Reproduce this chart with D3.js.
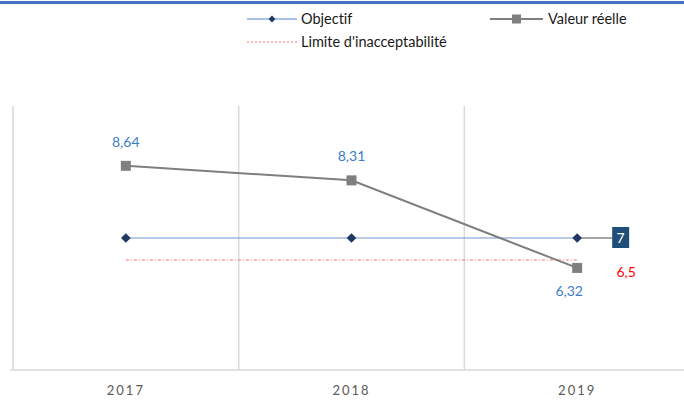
<!DOCTYPE html>
<html>
<head>
<meta charset="utf-8">
<script src="https://cdn.jsdelivr.net/npm/d3@7"></script>
<style>
  body { margin: 0; background: #fff; }
  svg { display: block; font-family: Lato, "Open Sans", sans-serif; font-variant-ligatures: none; }
</style>
</head>
<body>
<div id="chart"></div>
<script>
// chart data
const years = ['2017', '2018', '2019'];
const objectif = [7, 7, 7];
const valeurReelle = [8.64, 8.31, 6.32];
const limite = [6.5, 6.5, 6.5];
const legendLabels = ['Objectif', 'Valeur réelle', "Limite d'inacceptabilité"];

const width = 684, height = 401;
const fr = d3.formatLocale({ decimal: ',', thousands: ' ', grouping: [3], currency: ['', '€'] });
const fmt = v => fr.format('~g')(v);

const svg = d3.select('#chart').append('svg')
  .attr('width', width)
  .attr('height', height);

// top border
svg.append('rect').attr('x', 0).attr('y', 1).attr('width', width).attr('height', 3).attr('fill', '#4472C4');

const x = d3.scaleBand().domain(years).range([13, 690]);
const y = d3.scaleLinear().domain([4, 10]).range([370, 106]);
const cx = d => x(d) + x.bandwidth() / 2;

// vertical gridlines (category boundaries)
svg.append('g').selectAll('line')
  .data(years)
  .enter().append('line')
  .attr('x1', d => x(d)).attr('x2', d => x(d))
  .attr('y1', y(10)).attr('y2', y(4))
  .attr('stroke', '#D9D9D9').attr('stroke-width', 1.5);

// x axis
const xAxis = svg.append('g')
  .attr('transform', `translate(0,${y(4)})`)
  .call(d3.axisBottom(x).tickSize(0).tickPadding(16));
xAxis.select('.domain').remove();
xAxis.append('line')
  .attr('x1', 10).attr('x2', width).attr('y1', 0).attr('y2', 0)
  .attr('stroke', '#D9D9D9').attr('stroke-width', 1.5);
xAxis.selectAll('text')
  .attr('font-family', 'Lato, sans-serif')
  .attr('font-size', 13)
  .attr('letter-spacing', 2)
  .attr('fill', '#595959');

// limite line (dotted red)
svg.append('path')
  .datum(limite)
  .attr('fill', 'none')
  .attr('stroke', '#FF6F73')
  .attr('stroke-width', 1)
  .attr('stroke-dasharray', '3,2,1,2')
  .attr('d', d3.line().x((d, i) => cx(years[i])).y(d => y(d)));

// objectif line
svg.append('path')
  .datum(objectif)
  .attr('fill', 'none')
  .attr('stroke', '#7493CE')
  .attr('stroke-width', 1)
  .attr('d', d3.line().x((d, i) => cx(years[i])).y(d => y(d)));

// leader line to objectif label
const lastI = years.length - 1;
svg.append('line')
  .attr('x1', cx(years[lastI]) + 3).attr('x2', cx(years[lastI]) + 35)
  .attr('y1', y(objectif[lastI])).attr('y2', y(objectif[lastI]))
  .attr('stroke', '#A6A6A6').attr('stroke-width', 2);

// objectif markers
svg.append('g').selectAll('path')
  .data(objectif)
  .enter().append('path')
  .attr('transform', (d, i) => `translate(${cx(years[i])},${y(d)})`)
  .attr('d', d3.symbol().type(d3.symbolDiamond2).size(60))
  .attr('fill', '#203864');

// valeur réelle line
svg.append('path')
  .datum(valeurReelle)
  .attr('fill', 'none')
  .attr('stroke', '#7F7F7F')
  .attr('stroke-width', 2)
  .attr('d', d3.line().x((d, i) => cx(years[i])).y(d => y(d)));

svg.append('g').selectAll('rect')
  .data(valeurReelle)
  .enter().append('rect')
  .attr('x', (d, i) => cx(years[i]) - 5)
  .attr('y', d => y(d) - 5)
  .attr('width', 10).attr('height', 10)
  .attr('fill', '#7F7F7F');

// valeur réelle labels
svg.append('g').selectAll('text')
  .data(valeurReelle)
  .enter().append('text')
  .attr('x', (d, i) => cx(years[i]) - (i === lastI ? 8 : 0))
  .attr('y', (d, i) => i === lastI ? y(d) + 28 : y(d) - 19)
  .attr('text-anchor', 'middle')
  .attr('font-size', 14)
  .attr('fill', '#3C7DC4')
  .text(d => fmt(d));

// objectif label box
const boxX = cx(years[lastI]) + 35;
svg.append('rect')
  .attr('x', boxX).attr('y', y(objectif[lastI]) - 11)
  .attr('width', 17).attr('height', 21)
  .attr('fill', '#1F4E79');
svg.append('text')
  .attr('x', boxX + 8.5).attr('y', y(objectif[lastI]) + 5)
  .attr('text-anchor', 'middle')
  .attr('font-size', 14)
  .attr('fill', '#fff')
  .text(fmt(objectif[lastI]));

// limite label
svg.append('text')
  .attr('x', boxX + 14).attr('y', y(limite[lastI]) + 17)
  .attr('text-anchor', 'middle')
  .attr('font-size', 14)
  .attr('fill', '#FF0000')
  .text(fmt(limite[lastI]));

// legend
const lg = svg.append('g').attr('font-size', 14.5).attr('fill', '#1a1a1a');
const items = [
  { x: 247, y: 19, label: legendLabels[0], kind: 'obj' },
  { x: 490, y: 19, label: legendLabels[1], kind: 'val' },
  { x: 247, y: 42, label: legendLabels[2], kind: 'lim' }
];
items.forEach(it => {
  const g = lg.append('g').attr('transform', `translate(${it.x},${it.y})`);
  if (it.kind === 'obj') {
    g.append('line').attr('x1', 0).attr('x2', 50).attr('stroke', '#A9C0E8').attr('stroke-width', 2);
    g.append('path').attr('transform', 'translate(25,0)')
      .attr('d', d3.symbol().type(d3.symbolDiamond2).size(30)).attr('fill', '#203864');
  } else if (it.kind === 'val') {
    g.append('line').attr('x1', 0).attr('x2', 53).attr('stroke', '#7F7F7F').attr('stroke-width', 2);
    g.append('rect').attr('x', 22).attr('y', -4.5).attr('width', 9).attr('height', 9).attr('fill', '#7F7F7F');
  } else {
    g.append('line').attr('x1', 0).attr('x2', 50).attr('stroke', '#FF6F73').attr('stroke-width', 1)
      .attr('stroke-dasharray', '2,2');
  }
  g.append('text').attr('x', it.kind === 'val' ? 58 : 54).attr('y', 5).text(it.label);
});
</script>
</body>
</html>
